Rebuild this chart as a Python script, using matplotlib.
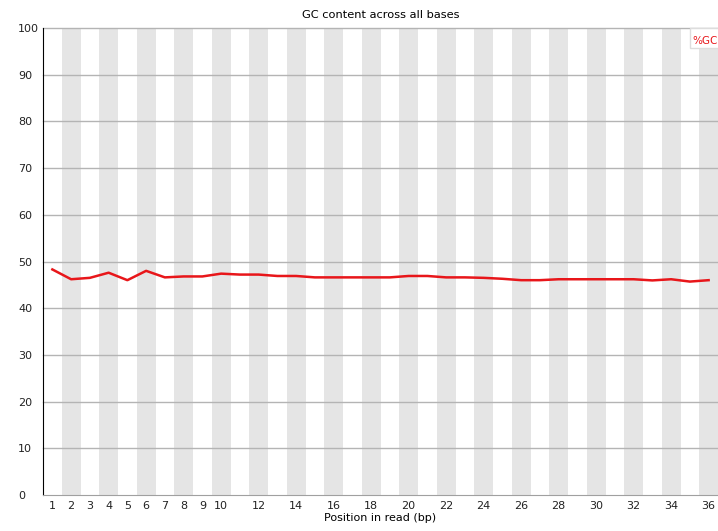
import matplotlib.pyplot as plt
from matplotlib.patches import Rectangle

# per-base %GC values
positions = list(range(1, 37))
gc = [48.3, 46.2, 46.5, 47.6, 46.0, 48.0, 46.6, 46.8, 46.8, 47.4,
      47.2, 47.2, 46.9, 46.9, 46.6, 46.6, 46.6, 46.6, 46.6, 46.9,
      46.9, 46.6, 46.6, 46.5, 46.3, 46.0, 46.0, 46.2, 46.2, 46.2,
      46.2, 46.2, 45.95, 46.2, 45.7, 46.0]
xtick_pos = list(range(1, 11)) + list(range(12, 37, 2))
ytick_pos = list(range(0, 101, 10))

fig = plt.figure(figsize=(7.18, 5.31), dpi=100)
ax = fig.add_axes([43/718, 36/531, 675/718, 467/531])

# alternating stripes for even positions
for p in positions:
    if p % 2 == 0:
        ax.axvspan(p - 0.5, p + 0.5, color='#e5e5e5', lw=0, zorder=0)

for y in ytick_pos[1:]:
    ax.axhline(y, color='#b4b4b4', lw=1, zorder=1, clip_on=False)

ax.plot(positions, gc, color='#e8161a', lw=1.8, zorder=3)

ax.set_xlim(0.5, 36.5)
ax.set_ylim(0, 100)
ax.set_xticks(xtick_pos)
ax.set_xticklabels([str(t) for t in xtick_pos])
ax.set_yticks(ytick_pos)
ax.tick_params(length=0, labelsize=8, colors='#222222')
ax.tick_params(axis='y', pad=18)
ax.tick_params(axis='x', pad=4)
for lab in ax.get_yticklabels():
    lab.set_horizontalalignment('left')
for s in ['top', 'right']:
    ax.spines[s].set_visible(False)
ax.spines['left'].set_color('#000000')
ax.spines['bottom'].set_color('#a0a0a0')
ax.set_xlabel('Position in read (bp)', fontsize=8, labelpad=2)
ax.set_title('GC content across all bases', fontsize=8.2, pad=7)

# legend box at the top right
fig.patches.append(Rectangle((690/718, (531-48)/531), 40/718, 20/531,
                             transform=fig.transFigure, facecolor='white',
                             edgecolor='#dddddd', lw=1, zorder=5))
fig.text(692/718, (531-41)/531, '%GC', color='#e8161a', fontsize=7.5,
         va='center', ha='left', zorder=6)

fig.savefig('out.png', dpi=100)
